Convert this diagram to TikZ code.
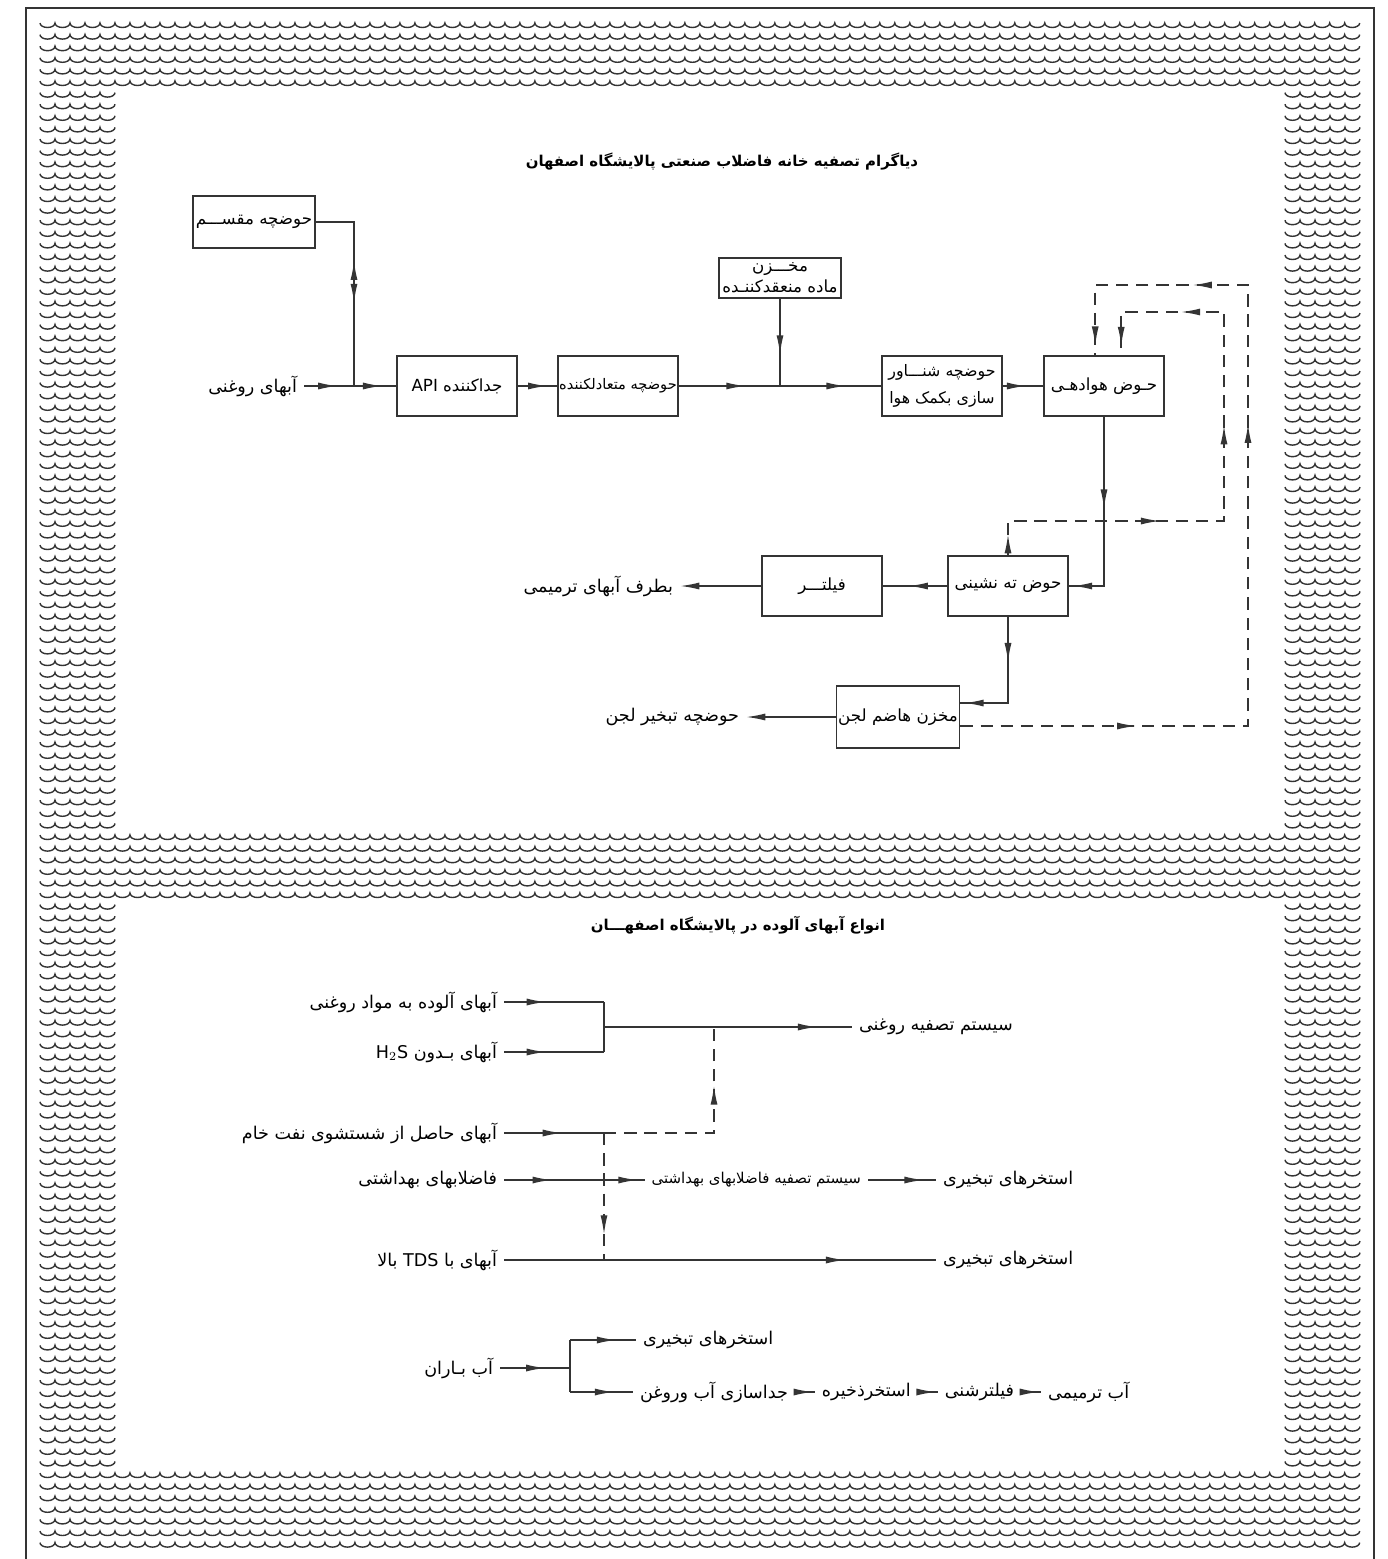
\documentclass[tikz,border=0pt]{standalone}
\usepackage{fontspec}
\newfontfamily\farsifont[Script=Arabic]{DejaVu Sans}
\TeXXeTstate=1
\usetikzlibrary{arrows.meta,calc,decorations.markings,positioning}
\definecolor{Ink}{RGB}{52,52,52}
\newcommand{\rl}[1]{\beginR #1\endR}
\tikzset{
  flowtip/.tip={Latex[length=11pt,width=4pt]},
  box/.style={
    draw=Ink,
    line width=0.9pt,
    align=center,
    minimum width=2.4cm,
    minimum height=1.2cm,
    inner sep=1pt,
    font=\farsifont\fontsize{9.5}{15}\selectfont
  },
  lbl/.style={inner sep=0pt,outer sep=4pt,font=\farsifont\fontsize{10}{12}\selectfont},
  small/.style={font=\farsifont\fontsize{8.5}{12}\selectfont},
  heading/.style={font=\farsifont\bfseries\fontsize{8.5}{12}\selectfont},
  link/.style={draw,color=Ink,line width=0.9pt},
  back/.style={link,dash pattern=on 7pt off 4.5pt},
  fwd/.style={postaction={decorate,decoration={markings,mark=at position #1 with {\arrow{flowtip}}}}},
  rev/.style={postaction={decorate,decoration={markings,mark=at position #1 with {\arrowreversed{flowtip}}}}},
  wave/.style={draw=Ink,line width=0.8pt},
  frame/.style={draw=Ink,line width=1.5pt}
}

\begin{document}
\begin{tikzpicture}[x=0.02cm,y=-0.02cm,node distance=0.4cm]

\useasboundingbox (0,0) rectangle (1388,1559);
\fill[white] (0,0) rectangle (1388,1559);
\begin{scope}
  \clip (0,0) rectangle (1388,1559);
  \draw[frame] (26,8) rectangle (1374,1590);
\end{scope}

% wavy border
\foreach \k in {0,...,131}{
  \pgfmathsetmacro{\wy}{23+11.6*\k}
  \pgfmathtruncatemacro{\full}{or(\wy<88,or(and(\wy>826,\wy<898),\wy>1470))}
  \ifnum\full=1
    \draw[wave] (40,\wy) \foreach \i in {1,...,88}{arc[start angle=180,end angle=360,x radius=0.15cm,y radius=0.09cm]};
  \else
    \draw[wave] (40,\wy) \foreach \i in {1,...,5}{arc[start angle=180,end angle=360,x radius=0.15cm,y radius=0.09cm]};
    \draw[wave] (1285,\wy) \foreach \i in {1,...,5}{arc[start angle=180,end angle=360,x radius=0.15cm,y radius=0.09cm]};
  \fi
}

% treatment plant
\node[heading] (ttl1) at (722,162) {\rl{دیاگرام تصفیه خانه فاضلاب صنعتی پالایشگاه اصفهان}};

\node[box,minimum width=2.44cm,minimum height=1.04cm] (preq) at (254,222) {\rl{حوضچه مقســـم}};
\node[lbl,anchor=east] (oily) at (304,386) {\rl{آبهای روغنی}};
\node[box] (api) at (457,386) {\rl{جداکننده \beginL API\endL}};
\node[box,inner sep=0pt,font=\farsifont\fontsize{8.3}{12}\selectfont] (eq) at (618,386) {\rl{حوضچه متعادلکننده}};
\node[box,minimum width=2.44cm,minimum height=0.8cm] (coag) at (780,278) {\rl{مخـــزن}\\[-3pt]\rl{ماده منعقدکننـده}};
\node[box,font=\farsifont\fontsize{9}{15}\selectfont] (daf) at (942,386) {\rl{حوضچه شنـــاور}\\\rl{سازی بکمک هوا}};
\node[box] (aer) at (1104,386) {\rl{حـوض هوادهـی}};
\node[box] (clar) at (1008,586) {\rl{حوض ته نشینی}};
\node[box] (filt) at (822,586) {\rl{فیلتـــر}};
\node[lbl,anchor=east] (reuse) at (680,586) {\rl{بطرف آبهای ترمیمی}};
\node[box,minimum height=1.24cm] (dig) at (898,717) {\rl{مخزن هاضم لجن}};
\node[lbl,anchor=east] (lagoon) at (746,717) {\rl{حوضچه تبخیر لجن}};

\coordinate (j1) at (354,386);
\coordinate (j2) at (coag.south |- eq.east);
\coordinate (a1) at ($(aer.north west)+(52,0)$);
\coordinate (a2) at ($(aer.north west)+(78,0)$);
\coordinate (dout) at ($(dig.east)+(0,9)$);
\coordinate (din) at ($(dig.east)+(0,-14)$);
\coordinate (ro) at (1248,285);
\coordinate (ri) at (1224,312);
\coordinate (rm) at (1224,521);

\draw[link,rev=0.38,fwd=0.59] (preq.east) -| (j1);
\draw[link,fwd=0.67] (oily.east) -- (j1);
\draw[link,fwd=0.67] (j1) -- (api.west);
\draw[link,fwd=0.75] (api.east) -- (eq.west);
\draw[link,fwd=0.66] (eq.east) -- (j2);
\draw[link,fwd=0.64] (coag.south) -- (j2);
\draw[link,fwd=0.65] (j2) -- (daf.west);
\draw[link,fwd=0.58] (daf.east) -- (aer.west);
\draw[link,fwd=0.45,fwd=0.98] (aer.south) |- (clar.east);
\draw[link,fwd=0.6] (clar.west) -- (filt.east);
\draw[link,-flowtip] (filt.west) -- (reuse.east);
\draw[link,fwd=0.34,fwd=0.97] (clar.south) |- (din);
\draw[link,-flowtip] (dig.west) -- (lagoon.east);

\draw[back,fwd=0.035,fwd=0.308,fwd=0.572,fwd=0.83,fwd=0.985] (clar.north) |- (rm) -- (ri) -| (a2);
\draw[back,fwd=0.185,fwd=0.62,fwd=0.824,fwd=0.99] (dout) -| (ro) -| (a1);

% kinds of waste water
\node[heading] (ttl2) at (738,925) {\rl{انواع آبهای آلوده در پالایشگاه اصفهـــان}};

\node[lbl,anchor=east] (oilw) at (504,1002) {\rl{آبهای آلوده به مواد روغنی}};
\node[lbl,anchor=east] (noh2s) at (504,1052) {\rl{آبهای بـدون \beginL H$_2$S\endL}};
\node[lbl,anchor=east] (wash) at (504,1133) {\rl{آبهای حاصل از شستشوی نفت خام}};
\node[lbl,anchor=east] (sewer) at (504,1180) {\rl{فاضلابهای بهداشتی}};
\node[lbl,anchor=east] (tds) at (504,1260) {\rl{آبهای با \beginL TDS\endL{} بالا}};
\node[lbl,anchor=east] (rain) at (500,1368) {\rl{آب بـاران}};

\node[lbl,anchor=west] (oilsys) at (852,1027) {\rl{سیستم تصفیه روغنی}};
\node[lbl,small,anchor=east] (sansys) at (868,1180) {\rl{سیستم تصفیه فاضلابهای بهداشتی}};
\node[lbl,anchor=west] (evap1) at (936,1180) {\rl{استخرهای تبخیری}};
\node[lbl,anchor=west] (evap2) at (936,1260) {\rl{استخرهای تبخیری}};
\node[lbl,anchor=west] (evap3) at (636,1340) {\rl{استخرهای تبخیری}};
\node[lbl,anchor=west] (sep) at (633,1392) {\rl{جداسازی آب وروغن}};
\node[lbl,right=of sep] (stor) {\rl{استخرذخیره}};
\node[lbl,right=of stor] (sand) {\rl{فیلترشنی}};
\node[lbl,right=of sand] (makeup) {\rl{آب ترمیمی}};

\coordinate (k1) at (604,1002);
\coordinate (k2) at (604,1052);
\coordinate (kb) at (604,1027);
\coordinate (kd) at (714,1027);
\coordinate (kw) at (604,1133);
\coordinate (kt) at (604,1260);
\coordinate (rj) at (570,1368);
\coordinate (ru) at (570,1340);
\coordinate (rd) at (570,1392);

\draw[link,fwd=0.42] (oilw.east) -- (k1);
\draw[link,fwd=0.42] (noh2s.east) -- (k2);
\draw[link] (k1) -- (k2);
\draw[link,fwd=0.86] (kb) -- (oilsys.west);
\draw[link,fwd=0.58] (wash.east) -- (kw);
\draw[back,fwd=0.73] (kw) -| (kd);
\draw[back,fwd=0.8] (kw) -- (kt);
\draw[link,fwd=0.34,fwd=0.95] (sewer.east) -- (sansys.west);
\draw[link,fwd=0.82] (sansys.east) -- (evap1.west);
\draw[link,fwd=0.79] (tds.east) -- (evap2.west);

\draw[link,fwd=0.65] (rain.east) -- (rj);
\draw[link] (ru) -- (rd);
\draw[link,fwd=0.7] (ru) -- (evap3.west);
\draw[link,fwd=0.7] (rd) -- (sep.west);
\draw[link,fwd=0.9] (sep.east) -- (stor.west);
\draw[link,fwd=0.9] (stor.east) -- (sand.west);
\draw[link,fwd=0.9] (sand.east) -- (makeup.west);

\end{tikzpicture}
\end{document}
